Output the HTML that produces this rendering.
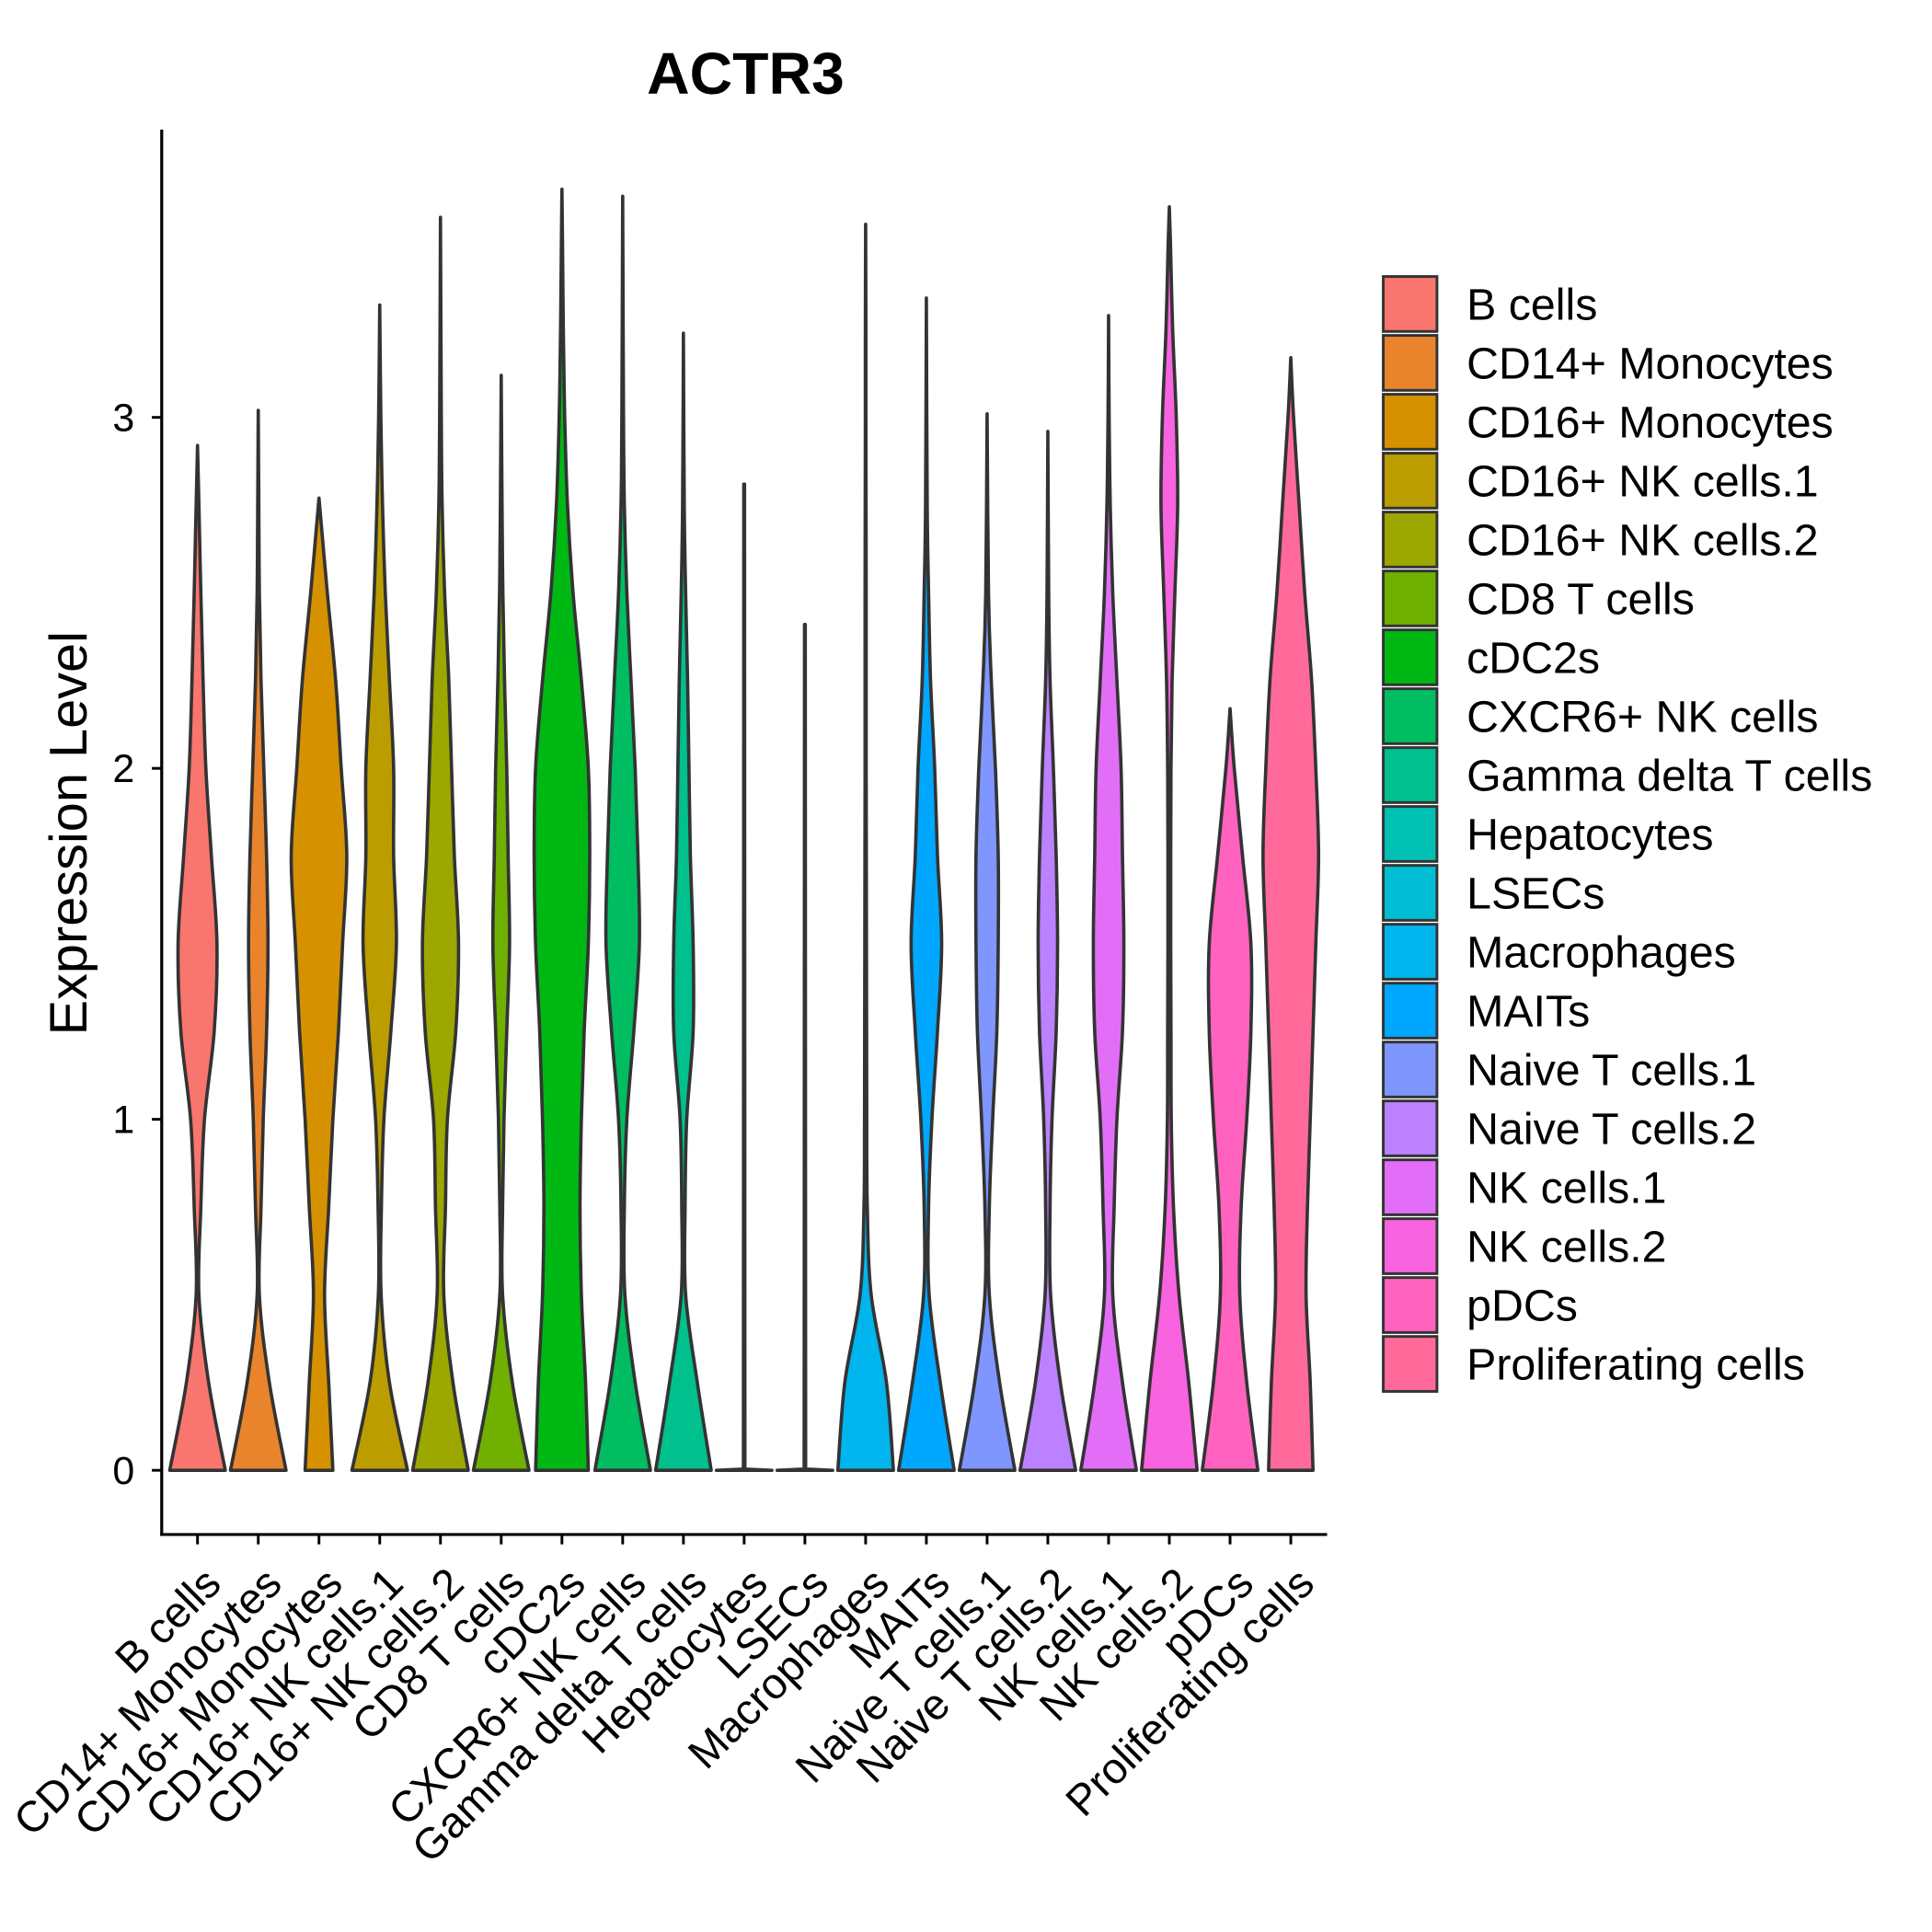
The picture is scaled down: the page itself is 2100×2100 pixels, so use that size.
<!DOCTYPE html>
<html><head><meta charset="utf-8"><style>
html,body{margin:0;padding:0;background:#fff;}
svg{display:block;}
text{font-family:"Liberation Sans",Arial,sans-serif;fill:#000;}
</style></head><body>
<svg id="chart" width="2100" height="2100" viewBox="0 0 1565 1565" xmlns="http://www.w3.org/2000/svg">
<text x="604" y="76" font-size="48" font-weight="bold" text-anchor="middle">ACTR3</text>
<text transform="translate(70,675) rotate(-90)" font-size="43" text-anchor="middle">Expression Level</text>
<g id="violins"></g>
<g id="axes"></g>
<g id="legend"></g>
</svg>
<script>
const categories = ["B cells","CD14+ Monocytes","CD16+ Monocytes","CD16+ NK cells.1","CD16+ NK cells.2","CD8 T cells","cDC2s","CXCR6+ NK cells","Gamma delta T cells","Hepatocytes","LSECs","Macrophages","MAITs","Naive T cells.1","Naive T cells.2","NK cells.1","NK cells.2","pDCs","Proliferating cells"];
const colors = ["#F8766D","#E9842C","#D69100","#BC9D00","#9CA700","#6FB000","#00B813","#00BD61","#00C08D","#00C0B4","#00BDD4","#00B5EE","#00A7FF","#7F96FF","#BC81FF","#E26EF7","#F863DF","#FF62BF","#FF6A9A"];
const maxValues = [2.92,3.02,2.77,3.32,3.57,3.12,3.65,3.63,3.24,2.81,2.41,3.55,3.34,3.01,2.96,3.29,3.6,2.17,3.17];
const profileLevels = [0,0.25,0.5,0.75,1,1.25,1.5,1.75,2,2.25,2.5,2.75,3,3.25,3.5];
const profileWidths = [
 [1,0.4,0.05,0.12,0.25,0.6,0.7,0.5,0.3,0.2,0.12,0.05],
 [1,0.4,0.04,0.1,0.18,0.3,0.35,0.3,0.2,0.1,0.04,0.02],
 [0.5,0.35,0.2,0.35,0.5,0.7,0.85,1.0,0.8,0.6,0.3],
 [1,0.35,0.05,0.06,0.15,0.4,0.6,0.5,0.5,0.35,0.2,0.1,0.04],
 [1,0.45,0.12,0.18,0.25,0.55,0.65,0.5,0.4,0.3,0.15,0.06,0.03],
 [1,0.4,0.05,0.05,0.1,0.2,0.3,0.25,0.2,0.12,0.06,0.03],
 [0.95,0.85,0.7,0.65,0.7,0.8,0.95,1.0,0.95,0.7,0.4,0.2,0.1,0.05,0.02],
 [1,0.45,0.08,0.06,0.15,0.4,0.6,0.55,0.45,0.3,0.15,0.06,0.03],
 [1,0.5,0.08,0.06,0.12,0.35,0.35,0.25,0.2,0.15,0.08,0.03],
 [1,0.01,0.01,0.01,0.01,0.01,0.01,0.01,0.01,0.01,0.01],
 [1,0.01,0.01,0.01,0.01,0.01,0.01,0.01,0.01,0.01],
 [1,0.75,0.2,0.06,0.04,0.035,0.03,0.025,0.02,0.02,0.02,0.015,0.01,0.01],
 [1,0.5,0.1,0.08,0.2,0.4,0.55,0.4,0.3,0.15,0.08,0.03],
 [1,0.45,0.08,0.08,0.2,0.35,0.4,0.4,0.3,0.15,0.05],
 [1,0.45,0.1,0.08,0.15,0.3,0.35,0.3,0.2,0.08,0.03],
 [1,0.5,0.15,0.2,0.3,0.5,0.55,0.5,0.45,0.3,0.15,0.06,0.02],
 [1,0.7,0.35,0.15,0.07,0.06,0.05,0.05,0.06,0.1,0.2,0.3,0.25,0.12,0.04],
 [1,0.6,0.35,0.4,0.6,0.75,0.75,0.45,0.15],
 [0.8,0.7,0.55,0.6,0.7,0.8,0.9,1.0,0.9,0.75,0.5,0.3,0.1]
];
const yTicks = [0,1,2,3];

const NS="http://www.w3.org/2000/svg";
const x0=131, x1=1075, yTop=105, yBot=1243, zeroY=1191, unit=284.3, halfW=22.5;
const yScale=v=>zeroY-v*unit;
const xScale=i=>160+i*49.2;
const vg=document.getElementById('violins');
const ag=document.getElementById('axes');
const lg=document.getElementById('legend');
function mk(tag,attrs,parent){const e=document.createElementNS(NS,tag);for(const k in attrs)e.setAttribute(k,attrs[k]);parent.appendChild(e);return e;}

function smooth(pts){
  let d="";
  for(let i=0;i<pts.length-1;i++){
    const p0=pts[Math.max(0,i-1)],p1=pts[i],p2=pts[i+1],p3=pts[Math.min(pts.length-1,i+2)];
    const c1=[p1[0]+(p2[0]-p0[0])/6,p1[1]+(p2[1]-p0[1])/6];
    const c2=[p2[0]-(p3[0]-p1[0])/6,p2[1]-(p3[1]-p1[1])/6];
    d+=` C${c1[0].toFixed(2)},${c1[1].toFixed(2)} ${c2[0].toFixed(2)},${c2[1].toFixed(2)} ${p2[0].toFixed(2)},${p2[1].toFixed(2)}`;
  }
  return d;
}
categories.forEach((c,i)=>{
  const cx=xScale(i), mx=maxValues[i], w=profileWidths[i];
  const knots=[];
  for(let k=0;k<w.length;k++){ if(profileLevels[k]<mx) knots.push([profileLevels[k],w[k]]); }
  knots.push([mx,0]);
  let d;
  if(w[1]<0.05){
    const b=yScale(0);
    d=`M${cx-halfW},${b} L${cx+halfW},${b} L${cx+0.6},${b-1} L${cx+0.3},${yScale(mx)} L${cx-0.3},${yScale(mx)} L${cx-0.6},${b-1} Z`;
  } else {
    const right=knots.map(p=>[cx+p[1]*halfW,yScale(p[0])]);
    const left=knots.slice().reverse().map(p=>[cx-p[1]*halfW,yScale(p[0])]);
    d=`M${cx},${yScale(0)} L${right[0][0]},${right[0][1]}`+smooth(right)+smooth(left)+` L${cx},${yScale(0)} Z`;
  }
  const p=mk('path',{d:d,fill:colors[i],stroke:'#333333','stroke-width':2.7,'stroke-linejoin':'round'},vg);
  
  
});
let l=mk('line',{x1:x0,y1:yTop,x2:x0,y2:yBot+1.2,stroke:'#000','stroke-width':2.4},ag);


l=mk('line',{x1:x0-1.2,y1:yBot,x2:x1,y2:yBot,stroke:'#000','stroke-width':2.4},ag);


yTicks.forEach(v=>{
  const y=yScale(v);
  const t=mk('line',{x1:x0-8,y1:y,x2:x0,y2:y,stroke:'#000','stroke-width':2.2},ag);
  
  
  const tx=mk('text',{x:x0-22,y:y+11,'font-size':32,'text-anchor':'end'},ag);
  tx.textContent=v;
  
  
});
categories.forEach((c,i)=>{
  const x=xScale(i);
  const t=mk('line',{x1:x,y1:yBot,x2:x,y2:yBot+8,stroke:'#000','stroke-width':2.2},ag);
  
  
  const tx=mk('text',{transform:`translate(${x+3},${yBot+24}) rotate(-45)`,'font-size':35,'text-anchor':'end',dy:'0.72em'},ag);
  tx.textContent=c;
  
  
});
categories.forEach((c,i)=>{
  const y=224+i*47.7;
  const r=mk('rect',{x:1120.5,y:y,width:43.5,height:44.5,fill:colors[i],stroke:'#333333','stroke-width':2.2},lg);
  
  
  const tx=mk('text',{x:1188,y:y+35,'font-size':36},lg);
  tx.textContent=c;
  
  
});
</script>
</body></html>
